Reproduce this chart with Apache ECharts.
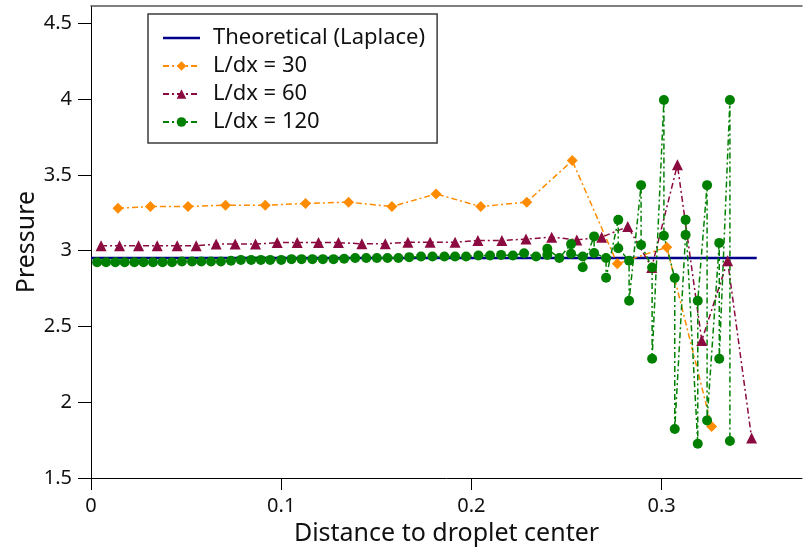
<!DOCTYPE html>
<html>
<head>
<meta charset="utf-8">
<script src="https://cdn.jsdelivr.net/npm/echarts@6/dist/echarts.min.js"></script>
<style>html,body{margin:0;padding:0;background:#fff}#c{width:806px;height:549px}</style>
</head>
<body>
<div id="c"></div>
<script>
// Data
const yTicks = [1.5, 2, 2.5, 3, 3.5, 4, 4.5];
const xTicks = [0, 0.1, 0.2, 0.3];

const theoreticalX = [0, 0.35];
const theoreticalP = [2.951, 2.951];

const dx30X = [0.0142, 0.0312, 0.0510, 0.0707, 0.0916, 0.1128, 0.1354, 0.1582, 0.1814, 0.2049, 0.2291, 0.2530, 0.2767, 0.3027, 0.3263];
const dx30P = [3.280, 3.291, 3.291, 3.300, 3.300, 3.311, 3.320, 3.291, 3.374, 3.291, 3.320, 3.594, 2.913, 3.023, 1.840];

const dx60X = [0.0053, 0.0150, 0.0250, 0.0348, 0.0453, 0.0553, 0.0658, 0.0758, 0.0865, 0.0979, 0.1084, 0.1196, 0.1301,
               0.1424, 0.1547, 0.1666, 0.1783, 0.1914, 0.2034, 0.2160, 0.2287, 0.2422, 0.2554,
               0.2685, 0.2822, 0.2948, 0.3083, 0.3211, 0.3347, 0.3473];
const dx60P = [3.032, 3.032, 3.032, 3.032, 3.032, 3.032, 3.043, 3.043, 3.043, 3.053, 3.053, 3.053, 3.053,
               3.045, 3.045, 3.056, 3.056, 3.056, 3.067, 3.067, 3.076, 3.089, 3.071,
               3.089, 3.159, 2.889, 3.566, 2.407, 2.933, 1.764];

const dx120X = [0.0032, 0.0079, 0.0128, 0.0177, 0.0228, 0.0276, 0.0326, 0.0376, 0.0426, 0.0478,
                0.0531, 0.0580, 0.0631, 0.0683, 0.0736, 0.0788, 0.0842, 0.0893, 0.0942, 0.1000,
                0.1054, 0.1107, 0.1164, 0.1219, 0.1275, 0.1331, 0.1389, 0.1447, 0.1503, 0.1559,
                0.1616, 0.1673, 0.1735, 0.1795, 0.1858, 0.1914, 0.1972, 0.2037, 0.2098, 0.2156,
                0.2218, 0.2277, 0.2340, 0.2399, 0.2399, 0.2462,
                0.2524, 0.2524, 0.2585, 0.2585, 0.2645, 0.2645, 0.2708, 0.2708, 0.2772, 0.2772,
                0.2829, 0.2829, 0.2892, 0.2892, 0.2950, 0.2950, 0.3012, 0.3012, 0.3069, 0.3069,
                0.3126, 0.3126, 0.3190, 0.3190, 0.3239, 0.3239, 0.3303, 0.3303, 0.3359, 0.3359];
const dx120P = [2.924, 2.924, 2.924, 2.924, 2.924, 2.924, 2.924, 2.924, 2.924, 2.928,
                2.928, 2.928, 2.928, 2.928, 2.933, 2.939, 2.939, 2.939, 2.939, 2.939,
                2.944, 2.944, 2.944, 2.944, 2.944, 2.946, 2.951, 2.951, 2.951, 2.951,
                2.951, 2.957, 2.961, 2.961, 2.961, 2.961, 2.961, 2.968, 2.968, 2.972,
                2.968, 2.983, 2.961, 2.972, 3.012, 2.951,
                3.043, 2.979, 2.961, 2.891, 3.094, 2.985, 2.951, 2.821, 3.203, 3.016,
                2.933, 2.669, 3.432, 3.038, 2.889, 2.287, 3.994, 3.098, 2.819, 1.823,
                3.104, 3.203, 1.726, 2.669, 3.432, 1.880, 3.051, 2.287, 3.994, 1.744];

const pairs = (xs, ys) => xs.map((x, i) => [x, ys[i]]);
const FONT = 'Noto Sans';
const dashDot = [6, 3, 2, 3];

const chart = echarts.init(document.getElementById('c'), null, {renderer: 'canvas'});
chart.setOption({
  animation: false,
  backgroundColor: '#ffffff',
  textStyle: {fontFamily: FONT},
  grid: {left: 91, right: 4, top: 6, bottom: 71, containLabel: false, outerBoundsMode: 'none'},
  legend: {
    orient: 'vertical', left: 148, top: 14,
    padding: [13, 12, 10, 14],
    itemGap: 6, itemWidth: 37, itemHeight: 12,
    borderColor: '#3c3c3c', borderWidth: 1.5, borderRadius: 0,
    textStyle: {fontSize: 22, color: '#111', fontFamily: FONT, padding: [0, 0, 0, 8]},
    data: [
      {name: 'Theoretical (Laplace)', icon: 'path://M0,0 H40 V2.6 H0 Z'},
      'L/dx = 30', 'L/dx = 60', 'L/dx = 120'
    ]
  },
  xAxis: [{
    type: 'value', min: 0, max: 0.3738,
    name: 'Distance to droplet center', nameLocation: 'middle', nameGap: 42,
    nameTextStyle: {fontSize: 25, color: '#111', fontFamily: FONT},
    axisLine: {show: true, lineStyle: {color: '#000', width: 1}},
    axisTick: {show: true, length: 12, customValues: xTicks, lineStyle: {color: '#000'}},
    axisLabel: {fontSize: 20, color: '#111', margin: 18, customValues: xTicks, fontFamily: FONT},
    splitLine: {show: false}
  }, {
    type: 'value', min: 0, max: 0.3738, position: 'top',
    axisLine: {show: true, lineStyle: {color: '#555', width: 1.5}},
    axisTick: {show: false}, axisLabel: {show: false}, splitLine: {show: false}
  }],
  yAxis: {
    type: 'value', min: 1.5, max: 4.614,
    name: 'Pressure', nameLocation: 'middle', nameGap: 52, nameMoveOverlap: false,
    nameTextStyle: {fontSize: 25, color: '#111', fontFamily: FONT},
    axisLine: {show: true, onZero: false, lineStyle: {color: '#000', width: 1}},
    axisTick: {show: true, length: 13, customValues: yTicks, lineStyle: {color: '#000'}},
    axisLabel: {fontSize: 20, color: '#111', margin: 19, customValues: yTicks, fontFamily: FONT},
    splitLine: {show: false}
  },
  series: [
    {name: 'Theoretical (Laplace)', type: 'line', data: pairs(theoreticalX, theoreticalP),
     symbol: 'none', color: '#00008b', lineStyle: {color: '#00008b', width: 2.5}},
    {name: 'L/dx = 30', type: 'line', data: pairs(dx30X, dx30P),
     symbol: 'diamond', symbolSize: 11, color: '#ff8c00',
     lineStyle: {color: '#ff8c00', width: 1.5, type: dashDot}, itemStyle: {color: '#ff8c00'}},
    {name: 'L/dx = 60', type: 'line', data: pairs(dx60X, dx60P),
     symbol: 'triangle', symbolSize: 11, color: '#8b0a3f',
     lineStyle: {color: '#8b0a3f', width: 1.5, type: dashDot}, itemStyle: {color: '#8b0a3f'}},
    {name: 'L/dx = 120', type: 'line', data: pairs(dx120X, dx120P),
     symbol: 'circle', symbolSize: 10, color: '#008000',
     lineStyle: {color: '#008000', width: 1.5, type: dashDot}, itemStyle: {color: '#008000'}}
  ]
});
</script>
</body>
</html>
